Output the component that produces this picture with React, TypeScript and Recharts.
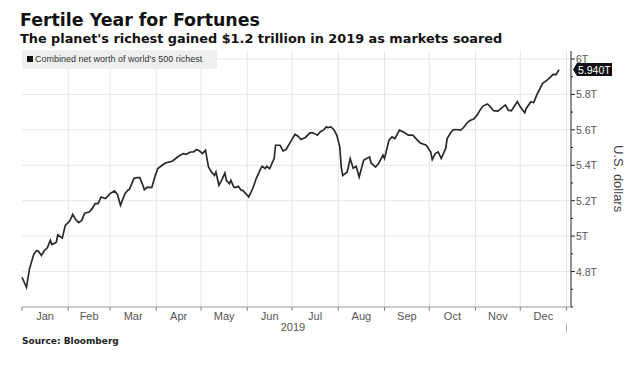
import React from 'react';
import { LineChart, Line, XAxis, YAxis, ReferenceLine } from 'recharts';

// day of year (0 = Jan 1, 2019) and combined net worth in trillions of USD
const days = [
  0, 3, 5, 8, 10, 11, 13, 15, 17, 19, 20, 23, 24, 27, 29, 32, 34, 36, 38, 40,
  42, 45, 47, 49, 51, 53, 56, 59, 62, 64, 66, 69, 71, 72, 75, 77, 79, 81, 82, 84,
  87, 89, 91, 94, 96, 99, 101, 103, 105, 108, 110, 113, 115, 117, 119, 121, 123, 125, 127, 129,
  130, 132, 134, 136, 137, 139, 140, 142, 143, 145, 147, 148, 150, 152, 155, 157, 160, 161, 163, 164,
  166, 169, 170, 173, 175, 177, 180, 183, 185, 187, 190, 193, 195, 198, 200, 202, 204, 205, 207, 209,
  211, 213, 214, 215, 218, 220, 222, 224, 226, 229, 231, 233, 234, 237, 239, 242, 243, 246, 248, 250,
  253, 256, 259, 262, 265, 267, 271, 274, 275, 277, 279, 281, 284, 285, 287, 289, 291, 294, 296, 298,
  300, 303, 305, 307, 309, 312, 314, 316, 319, 323, 324, 326, 328, 332, 334, 337, 338, 341, 343, 345,
  349, 352, 354, 356, 358, 360,
];
const worth = [
  4.768, 4.711, 4.815, 4.9, 4.919, 4.915, 4.891, 4.919, 4.934, 4.976, 4.953, 4.966, 5.008, 4.989, 5.06, 5.085, 5.123, 5.094, 5.076, 5.089,
  5.13, 5.136, 5.155, 5.183, 5.183, 5.221, 5.212, 5.24, 5.255, 5.236, 5.174, 5.24, 5.259, 5.264, 5.325, 5.33, 5.33, 5.287, 5.262, 5.277,
  5.274, 5.334, 5.381, 5.4, 5.413, 5.419, 5.424, 5.438, 5.451, 5.466, 5.462, 5.475, 5.475, 5.489, 5.481, 5.466, 5.485, 5.39, 5.362, 5.343,
  5.362, 5.287, 5.319, 5.356, 5.315, 5.296, 5.315, 5.277, 5.274, 5.281, 5.258, 5.258, 5.24, 5.221, 5.276, 5.325, 5.381, 5.394, 5.381, 5.394,
  5.381, 5.438, 5.513, 5.513, 5.481, 5.489, 5.532, 5.575, 5.564, 5.545, 5.557, 5.583, 5.583, 5.57, 5.589, 5.598, 5.617, 5.613, 5.617, 5.602,
  5.57, 5.504, 5.39, 5.343, 5.362, 5.438, 5.383, 5.394, 5.334, 5.428, 5.438, 5.447, 5.413, 5.39, 5.41, 5.457, 5.438, 5.542, 5.56, 5.551,
  5.598, 5.586, 5.57, 5.57, 5.542, 5.525, 5.513, 5.475, 5.432, 5.466, 5.475, 5.438, 5.495, 5.551, 5.579, 5.6, 5.602, 5.598, 5.613, 5.636,
  5.652, 5.663, 5.683, 5.711, 5.734, 5.746, 5.73, 5.708, 5.706, 5.734, 5.74, 5.711, 5.707, 5.759, 5.73, 5.697, 5.721, 5.757, 5.754, 5.796,
  5.862, 5.881, 5.896, 5.913, 5.912, 5.94,
];

const monthStarts = [0, 31, 59, 90, 120, 151, 181, 212, 243, 273, 304, 334, 365];
const monthNames = ['Jan', 'Feb', 'Mar', 'Apr', 'May', 'Jun', 'Jul', 'Aug', 'Sep', 'Oct', 'Nov', 'Dec'];
const majorTicks = [4.8, 5, 5.2, 5.4, 5.6, 5.8, 6];
const minorTicks = [4.6, 4.7, 4.9, 5.1, 5.3, 5.5, 5.7, 5.9];

const data = days.map((d, i) => ({ day: d, worth: worth[i] }));
const lastValue = worth[worth.length - 1];
const monthMids = monthNames.map((_, i) => (monthStarts[i] + monthStarts[i + 1]) / 2);
const xTicks = [...monthStarts, ...monthMids].sort((a, b) => a - b);
const yTicks = [...minorTicks, ...majorTicks, lastValue].sort((a, b) => a - b);

const axisFont = '"Liberation Sans", Arial, sans-serif';
const headFont = '"DejaVu Sans", Verdana, sans-serif';

const XTick = (props: any) => {
  const { x, y, payload } = props;
  const v = payload.value;
  const idx = monthStarts.indexOf(v);
  if (idx >= 0) {
    return (
      <g>
        <line x1={x} x2={x} y1={y} y2={y + 4} stroke="#888" />
        {v === 365 && <line x1={x} x2={x} y1={y + 16} y2={y + 26} stroke="#bbb" />}
      </g>
    );
  }
  const m = monthMids.indexOf(v);
  return (
    <text x={x} y={y + 13} textAnchor="middle" fontSize={11} fill="#555" fontFamily={axisFont}>
      {monthNames[m]}
    </text>
  );
};

const YTick = (props: any) => {
  const { x, y, payload } = props;
  const v = payload.value;
  if (v === lastValue) {
    return (
      <g>
        <polygon
          points={`${x + 2},${y} ${x + 6},${y - 6.5} ${x + 41},${y - 6.5} ${x + 41},${y + 6.5} ${x + 6},${y + 6.5}`}
          fill="#111"
        />
        <text x={x + 7} y={y + 4} fontSize={10.5} fill="#fff" fontFamily={axisFont}>
          {lastValue.toFixed(3)}T
        </text>
      </g>
    );
  }
  if (majorTicks.some((t) => Math.abs(t - v) < 1e-6)) {
    return (
      <g>
        <line x1={x} x2={x + 4} y1={y} y2={y} stroke="#222" />
        <text x={x + 5} y={y + 4} fontSize={10.5} fill="#555" fontFamily={axisFont}>
          {+v.toFixed(1)}T
        </text>
      </g>
    );
  }
  return <line x1={x} x2={x + 2} y1={y} y2={y} stroke="#222" />;
};

export default function App() {
  return (
    <div style={{ position: 'absolute', left: 0, top: 0, width: 640, height: 370, background: '#fff' }}>
      <div style={{ position: 'absolute', left: 20, top: 10, fontFamily: headFont, fontWeight: 'bold', fontSize: 17.4, lineHeight: '20px', color: '#111', whiteSpace: 'nowrap' }}>
        Fertile Year for Fortunes
      </div>
      <div style={{ position: 'absolute', left: 20, top: 31, fontFamily: headFont, fontWeight: 'bold', fontSize: 12.85, lineHeight: '15px', color: '#111', whiteSpace: 'nowrap' }}>
        The planet's richest gained $1.2 trillion in 2019 as markets soared
      </div>
      <LineChart width={640} height={370} data={data} margin={{ top: 51, left: 22, right: 29, bottom: 43 }}>
        <XAxis
          dataKey="day"
          type="number"
          domain={[0, 368]}
          ticks={xTicks}
          interval={0}
          tick={<XTick />}
          tickLine={false}
          tickSize={0}
          tickMargin={0}
          height={20}
          axisLine={{ stroke: '#999' }}
        />
        <YAxis
          orientation="right"
          type="number"
          domain={[4.6, 6.045]}
          ticks={yTicks}
          interval={0}
          tick={<YTick />}
          tickLine={false}
          tickSize={0}
          tickMargin={0}
          width={40}
          axisLine={{ stroke: '#222' }}
          allowDataOverflow
        />
        {monthStarts.slice(1).map((m) => (
          <ReferenceLine key={'v' + m} x={m} stroke="#e6e6e6" />
        ))}
        {majorTicks.map((t) => (
          <ReferenceLine key={'h' + t} y={t} stroke="#e6e6e6" />
        ))}
        <Line
          type="linear"
          dataKey="worth"
          stroke="#2a2a2a"
          strokeWidth={1.7}
          dot={false}
          isAnimationActive={false}
        />
      </LineChart>
      <div style={{ position: 'absolute', left: 22, top: 50, width: 195, height: 19, background: '#efefef', fontFamily: axisFont, fontSize: 9, lineHeight: '19px', color: '#333', whiteSpace: 'nowrap' }}>
        <span style={{ display: 'inline-block', width: 6, height: 6, background: '#111', margin: '0 2px 0 5px' }} />
        Combined net worth of world's 500 richest
      </div>
      <div style={{ position: 'absolute', left: 611, top: 145, writingMode: 'vertical-rl', fontFamily: axisFont, fontSize: 13, color: '#444', whiteSpace: 'nowrap' }}>
        U.S. dollars
      </div>
      <div style={{ position: 'absolute', left: 273, top: 321, width: 40, textAlign: 'center', fontFamily: axisFont, fontSize: 11, lineHeight: '13px', color: '#555' }}>
        2019
      </div>
      <div style={{ position: 'absolute', left: 22, top: 336, fontFamily: headFont, fontWeight: 'bold', fontSize: 9, lineHeight: '11px', color: '#222', whiteSpace: 'nowrap' }}>
        Source: Bloomberg
      </div>
    </div>
  );
}
